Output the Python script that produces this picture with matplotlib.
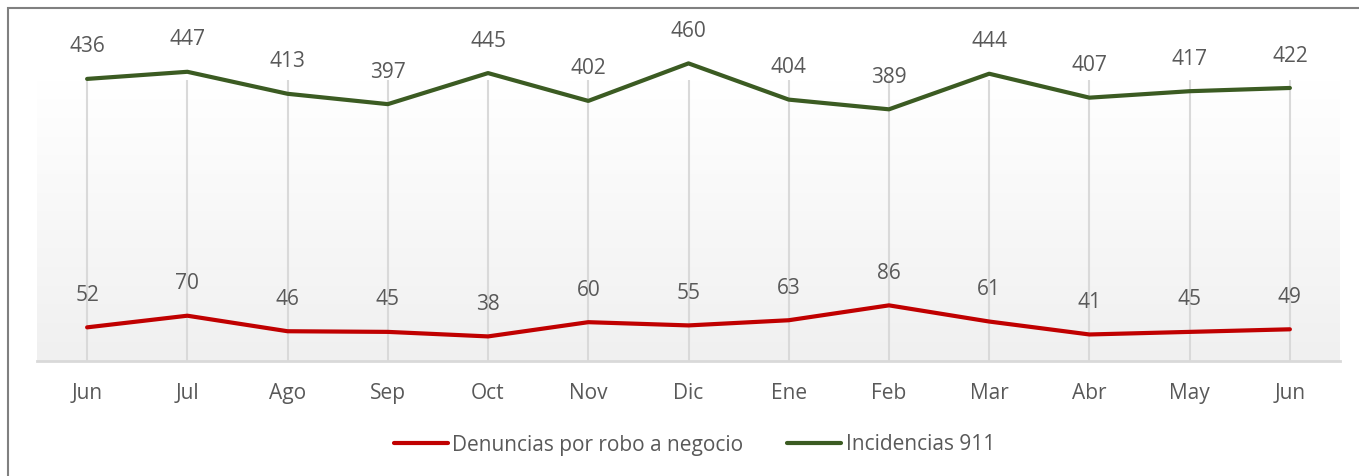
import numpy as np
import matplotlib
matplotlib.use('Agg')
import matplotlib.pyplot as plt
from matplotlib.patches import Rectangle
from matplotlib.colors import LinearSegmentedColormap

months = ['Jun', 'Jul', 'Ago', 'Sep', 'Oct', 'Nov', 'Dic', 'Ene', 'Feb', 'Mar', 'Abr', 'May', 'Jun']
denuncias = [52, 70, 46, 45, 38, 60, 55, 63, 86, 61, 41, 45, 49]
incidencias = [436, 447, 413, 397, 445, 402, 460, 404, 389, 444, 407, 417, 422]

plt.rcParams['font.family'] = ['Open Sans', 'DejaVu Sans']
txt_color = '#595959'
red = '#C00000'
green = '#3B5B22'

fig = plt.figure(figsize=(13.59, 4.76), dpi=100)
W, H = 1359, 476

# outer border of the chart
fig.patches.append(Rectangle((8 / W, -0.5), 2, 1 - 8 / H + 0.5, transform=fig.transFigure,
                             fill=False, edgecolor='#808080', linewidth=1.5))

ax = fig.add_axes([37 / W, 1 - 361 / H, (1340 - 37) / W, 281 / H])
x = np.arange(len(months))
ymax = 281 / 0.647
ax.set_xlim(-0.5, len(months) - 0.5)
ax.set_ylim(0, ymax)

# vertical gradient background: white at top, light gray at bottom
grad = np.linspace(0, 1, 256).reshape(-1, 1)
cmap = LinearSegmentedColormap.from_list('g', ['#ffffff', '#f0f0f0'])
ax.imshow(grad, aspect='auto', cmap=cmap, extent=[-0.5, len(months) - 0.5, 0, ymax],
          origin='upper', zorder=0)

for xi in x:
    ax.axvline(xi, color='#d9d9d9', linewidth=1.5, zorder=1)
ax.axhline(0, color='#d9d9d9', linewidth=2, zorder=2, clip_on=False)

ax.plot(x, denuncias, color=red, linewidth=3, label='Denuncias por robo a negocio',
        solid_capstyle='round', zorder=3, clip_on=False)
ax.plot(x, incidencias, color=green, linewidth=3, label='Incidencias 911',
        solid_capstyle='round', zorder=3, clip_on=False)

for xi, v in zip(x, denuncias):
    ax.annotate(str(v), (xi, v), xytext=(0, 23), textcoords='offset points',
                ha='center', va='center', fontsize=15, color=txt_color)
for xi, v in zip(x, incidencias):
    ax.annotate(str(v), (xi, v), xytext=(0, 23), textcoords='offset points',
                ha='center', va='center', fontsize=15, color=txt_color, annotation_clip=False)

ax.set_xticks(x)
ax.set_xticklabels(months, fontsize=15, color=txt_color)
ax.tick_params(axis='x', length=0, pad=16)
ax.set_yticks([])
for s in ax.spines.values():
    s.set_visible(False)

fig.legend(loc='center', bbox_to_anchor=(0.511, 1 - 445 / H), ncol=2, frameon=False,
           fontsize=15, labelcolor=txt_color, handlelength=2.6, handletextpad=0.2,
           columnspacing=2.1)

fig.savefig('out.png', dpi=100)
